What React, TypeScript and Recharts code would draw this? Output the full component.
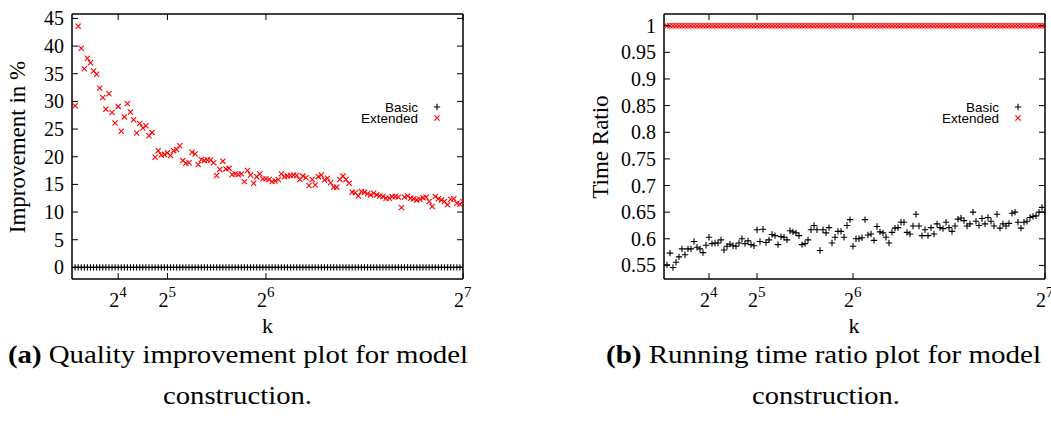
import React from 'react';
import { ScatterChart, Scatter, XAxis, YAxis } from 'recharts';

const kValues = [
  2, 3, 4, 5, 6, 7, 8, 9, 10, 11, 12, 13, 14, 15, 16, 17, 18, 19, 20, 21, 22, 23, 24, 25, 26, 27, 28, 29, 30, 31, 32,
  33, 34, 35, 36, 37, 38, 39, 40, 41, 42, 43, 44, 45, 46, 47, 48, 49, 50, 51, 52, 53, 54, 55, 56, 57, 58, 59, 60, 61,
  62, 63, 64, 65, 66, 67, 68, 69, 70, 71, 72, 73, 74, 75, 76, 77, 78, 79, 80, 81, 82, 83, 84, 85, 86, 87, 88, 89, 90,
  91, 92, 93, 94, 95, 96, 97, 98, 99, 100, 101, 102, 103, 104, 105, 106, 107, 108, 109, 110, 111, 112, 113, 114, 115,
  116, 117, 118, 119, 120, 121, 122, 123, 124, 125, 126, 127, 128,
];

const basicImprovement = [
  0, 0, 0, 0, 0, 0, 0, 0, 0, 0, 0, 0, 0, 0, 0, 0, 0, 0, 0, 0, 0, 0, 0, 0, 0, 0, 0, 0, 0, 0, 0, 0, 0, 0, 0, 0, 0, 0, 0,
  0, 0, 0, 0, 0, 0, 0, 0, 0, 0, 0, 0, 0, 0, 0, 0, 0, 0, 0, 0, 0, 0, 0, 0, 0, 0, 0, 0, 0, 0, 0, 0, 0, 0, 0, 0, 0, 0, 0,
  0, 0, 0, 0, 0, 0, 0, 0, 0, 0, 0, 0, 0, 0, 0, 0, 0, 0, 0, 0, 0, 0, 0, 0, 0, 0, 0, 0, 0, 0, 0, 0, 0, 0, 0, 0, 0, 0, 0,
  0, 0, 0, 0, 0, 0, 0, 0, 0, 0,
];

const extendedImprovement = [
  29.2, 43.6, 39.6, 35.9, 37.8, 37.0, 35.5, 34.9, 32.4, 30.7, 28.6, 31.4, 28.0, 26.1, 29.1, 24.6, 27.2, 29.6, 28.1,
  26.7, 24.3, 26.0, 25.2, 25.6, 23.8, 24.4, 19.9, 21.1, 20.3, 20.4, 20.7, 20.2, 21.1, 21.3, 22.0, 19.3, 18.8, 18.9,
  20.8, 20.5, 18.6, 19.5, 19.3, 19.4, 19.4, 18.9, 16.6, 17.7, 19.2, 17.8, 17.9, 16.8, 16.9, 16.8, 16.9, 15.5, 17.5,
  16.7, 15.2, 16.4, 16.9, 16.0, 16.0, 15.9, 15.5, 15.6, 15.9, 16.9, 16.4, 16.5, 16.6, 16.7, 16.6, 15.9, 16.5, 16.2,
  14.8, 15.9, 14.9, 16.4, 16.7, 15.8, 16.1, 15.3, 14.5, 14.5, 15.9, 16.5, 15.9, 15.2, 13.6, 13.5, 12.9, 13.7, 13.6,
  13.3, 13.1, 13.4, 13.1, 12.9, 12.8, 12.5, 12.5, 12.8, 12.8, 12.7, 10.8, 12.7, 12.9, 12.5, 12.4, 12.2, 12.3, 12.6,
  12.7, 11.9, 11.0, 12.8, 12.4, 12.2, 11.9, 11.3, 12.3, 12.4, 11.6, 11.4, 11.9,
];

const basicTimeRatio = [
  0.551, 0.573, 0.546, 0.556, 0.566, 0.581, 0.57, 0.581, 0.581, 0.595, 0.584, 0.581, 0.574, 0.588, 0.603, 0.591,
  0.592, 0.592, 0.598, 0.579, 0.586, 0.59, 0.587, 0.586, 0.592, 0.6, 0.591, 0.596, 0.589, 0.587, 0.617, 0.595, 0.618,
  0.593, 0.598, 0.608, 0.606, 0.589, 0.604, 0.603, 0.598, 0.615, 0.613, 0.611, 0.606, 0.589, 0.591, 0.598, 0.617,
  0.625, 0.617, 0.578, 0.617, 0.611, 0.621, 0.592, 0.603, 0.614, 0.614, 0.603, 0.625, 0.636, 0.586, 0.6, 0.6, 0.602,
  0.636, 0.607, 0.609, 0.597, 0.623, 0.613, 0.611, 0.603, 0.592, 0.612, 0.62, 0.621, 0.631, 0.631, 0.612, 0.609,
  0.624, 0.646, 0.624, 0.606, 0.617, 0.606, 0.621, 0.609, 0.628, 0.621, 0.619, 0.631, 0.621, 0.614, 0.624, 0.637,
  0.639, 0.634, 0.624, 0.628, 0.65, 0.633, 0.625, 0.638, 0.628, 0.64, 0.633, 0.624, 0.646, 0.62, 0.628, 0.624, 0.629,
  0.648, 0.65, 0.631, 0.62, 0.631, 0.633, 0.64, 0.642, 0.643, 0.65, 0.659, 0.65,
];

const extendedTimeRatio = [
  1, 1, 1, 1, 1, 1, 1, 1, 1, 1, 1, 1, 1, 1, 1, 1, 1, 1, 1, 1, 1, 1, 1, 1, 1, 1, 1, 1, 1, 1, 1, 1, 1, 1, 1, 1, 1, 1, 1,
  1, 1, 1, 1, 1, 1, 1, 1, 1, 1, 1, 1, 1, 1, 1, 1, 1, 1, 1, 1, 1, 1, 1, 1, 1, 1, 1, 1, 1, 1, 1, 1, 1, 1, 1, 1, 1, 1, 1,
  1, 1, 1, 1, 1, 1, 1, 1, 1, 1, 1, 1, 1, 1, 1, 1, 1, 1, 1, 1, 1, 1, 1, 1, 1, 1, 1, 1, 1, 1, 1, 1, 1, 1, 1, 1, 1, 1, 1,
  1, 1, 1, 1, 1, 1, 1, 1, 1, 1,
];

const xTicks = [16, 32, 64, 128];
const xTickExponents = ['4', '5', '6', '7'];
const improvementTicks = [0, 5, 10, 15, 20, 25, 30, 35, 40, 45];
const ratioTicks = [0.55, 0.6, 0.65, 0.7, 0.75, 0.8, 0.85, 0.9, 0.95, 1];
const seriesNames = ['Basic', 'Extended'];

const SERIF = "'Liberation Serif', 'Times New Roman', serif";
const SANS = "'Liberation Sans', Arial, sans-serif";
const RED = '#ff0000';
const TICK = 6;

const toPoints = (ys: number[]) => kValues.map((k, i) => ({ k, v: ys[i] }));

const PlusShape = (p: any) => {
  const { cx, cy } = p;
  const h = 3.2;
  return <path d={`M${cx - h},${cy}H${cx + h}M${cx},${cy - h}V${cy + h}`} stroke="#000" strokeWidth={1.1} fill="none" />;
};
const CrossShape = (p: any) => {
  const { cx, cy } = p;
  const h = 2.6;
  return (
    <path
      d={`M${cx - h},${cy - h}L${cx + h},${cy + h}M${cx - h},${cy + h}L${cx + h},${cy - h}`}
      stroke={RED}
      strokeWidth={1.1}
      fill="none"
    />
  );
};

const LeftTick = (p: any) => {
  const { x, y, payload } = p;
  return (
    <g>
      <line x1={x} x2={x + TICK} y1={y} y2={y} stroke="#000" strokeWidth={1} />
      <text x={x - 8} y={y} dy="0.35em" textAnchor="end" fontFamily={SERIF} fontSize={20} fill="#000">
        {String(payload.value)}
      </text>
    </g>
  );
};
const RightTick = (p: any) => {
  const { x, y } = p;
  return <line x1={x} x2={x - TICK} y1={y} y2={y} stroke="#000" strokeWidth={1} />;
};
const BottomTick = (p: any) => {
  const { x, y, payload } = p;
  const idx = xTicks.indexOf(payload.value);
  return (
    <g>
      <line x1={x} x2={x} y1={y} y2={y - TICK} stroke="#000" strokeWidth={1} />
      <text x={x + 1} y={y + 28} textAnchor="end" fontFamily={SERIF} fontSize={20} fill="#000">
        2
      </text>
      <text x={x + 1} y={y + 18} textAnchor="start" fontFamily={SERIF} fontSize={15} fill="#000">
        {xTickExponents[idx]}
      </text>
    </g>
  );
};
const TopTick = (p: any) => {
  const { x, y } = p;
  return <line x1={x} x2={x} y1={y} y2={y + TICK} stroke="#000" strokeWidth={1} />;
};

const axisLine = { stroke: '#000', strokeWidth: 1.5 };

function Panel(props: {
  width: number;
  height: number;
  margin: any;
  yDomain: [number, number];
  yTicks: number[];
  basic: number[];
  extended: number[];
}) {
  const { width, height, margin, yDomain, yTicks, basic, extended } = props;
  return (
    <ScatterChart width={width} height={height} margin={margin}>
      <XAxis
        xAxisId="b"
        type="number"
        dataKey="k"
        domain={[1, 128]}
        allowDataOverflow
        ticks={xTicks}
        height={1}
        tickSize={0}
        tickMargin={0}
        tickLine={false}
        axisLine={axisLine}
        tick={<BottomTick />}
        interval={0}
      />
      <XAxis
        xAxisId="t"
        orientation="top"
        type="number"
        dataKey="k"
        domain={[1, 128]}
        allowDataOverflow
        ticks={xTicks}
        height={1}
        tickSize={0}
        tickMargin={0}
        tickLine={false}
        axisLine={axisLine}
        tick={<TopTick />}
        interval={0}
      />
      <YAxis
        yAxisId="l"
        type="number"
        dataKey="v"
        domain={yDomain}
        allowDataOverflow
        ticks={yTicks}
        width={1}
        tickSize={0}
        tickMargin={0}
        tickLine={false}
        axisLine={axisLine}
        tick={<LeftTick />}
        interval={0}
      />
      <YAxis
        yAxisId="r"
        orientation="right"
        type="number"
        dataKey="v"
        domain={yDomain}
        allowDataOverflow
        ticks={yTicks}
        width={1}
        tickSize={0}
        tickMargin={0}
        tickLine={false}
        axisLine={axisLine}
        tick={<RightTick />}
        interval={0}
      />
      <Scatter
        name={seriesNames[0]}
        xAxisId="b"
        yAxisId="l"
        data={toPoints(basic)}
        shape={PlusShape}
        isAnimationActive={false}
      />
      <Scatter
        name={seriesNames[1]}
        xAxisId="b"
        yAxisId="l"
        data={toPoints(extended)}
        shape={CrossShape}
        isAnimationActive={false}
      />
    </ScatterChart>
  );
}

function LegendBlock({ textRight, markerX }: { textRight: number; markerX: number }) {
  const h1 = 3.2;
  const h2 = 2.6;
  const y1 = 107;
  const y2 = 118;
  return (
    <g>
      <text x={textRight} y={y1 + 5} textAnchor="end" fontFamily={SANS} fontSize={13.5} fill="#000">
        {seriesNames[0]}
      </text>
      <text x={textRight} y={y2 + 5} textAnchor="end" fontFamily={SANS} fontSize={13.5} fill="#000">
        {seriesNames[1]}
      </text>
      <path d={`M${markerX - h1},${y1}H${markerX + h1}M${markerX},${y1 - h1}V${y1 + h1}`} stroke="#000" strokeWidth={1.1} />
      <path
        d={`M${markerX - h2},${y2 - h2}L${markerX + h2},${y2 + h2}M${markerX - h2},${y2 + h2}L${markerX + h2},${y2 - h2}`}
        stroke={RED}
        strokeWidth={1.1}
      />
    </g>
  );
}

export default function App() {
  return (
    <div style={{ position: 'absolute', left: 0, top: 0, width: 1051, height: 439, background: '#fff', overflow: 'hidden' }}>
      <div style={{ position: 'absolute', left: 0, top: 0 }}>
        <Panel
          width={480}
          height={340}
          margin={{ top: 13, left: 71, right: 16, bottom: 60 }}
          yDomain={[-2.1, 45.8]}
          yTicks={improvementTicks}
          basic={basicImprovement}
          extended={extendedImprovement}
        />
      </div>
      <div style={{ position: 'absolute', left: 530, top: 0 }}>
        <Panel
          width={521}
          height={340}
          margin={{ top: 13, left: 133, right: 5, bottom: 60 }}
          yDomain={[0.5245, 1.022]}
          yTicks={ratioTicks}
          basic={basicTimeRatio}
          extended={extendedTimeRatio}
        />
      </div>
      <svg width={1051} height={439} style={{ position: 'absolute', left: 0, top: 0, pointerEvents: 'none' }}>
        <LegendBlock textRight={418} markerX={437} />
        <LegendBlock textRight={999} markerX={1018} />
        <text transform="translate(25,147) rotate(-90)" textAnchor="middle" fontFamily={SERIF} fontSize={23} fill="#000">
          Improvement in %
        </text>
        <text transform="translate(608,147) rotate(-90)" textAnchor="middle" fontFamily={SERIF} fontSize={23} fill="#000">
          Time Ratio
        </text>
        <text x={267.5} y={333} textAnchor="middle" fontFamily={SERIF} fontSize={22} fill="#000">
          k
        </text>
        <text x={854} y={333} textAnchor="middle" fontFamily={SERIF} fontSize={22} fill="#000">
          k
        </text>
        <text x={8} y={363} textLength={460} lengthAdjust="spacingAndGlyphs" fontFamily={SERIF} fontSize={25} fill="#000">
          <tspan fontWeight="bold">(a)</tspan> Quality improvement plot for model
        </text>
        <text x={163} y={404} textLength={149} lengthAdjust="spacingAndGlyphs" fontFamily={SERIF} fontSize={25} fill="#000">
          construction.
        </text>
        <text x={606} y={363} textLength={435} lengthAdjust="spacingAndGlyphs" fontFamily={SERIF} fontSize={25} fill="#000">
          <tspan fontWeight="bold">(b)</tspan> Running time ratio plot for model
        </text>
        <text x={752} y={404} textLength={148} lengthAdjust="spacingAndGlyphs" fontFamily={SERIF} fontSize={25} fill="#000">
          construction.
        </text>
      </svg>
    </div>
  );
}
